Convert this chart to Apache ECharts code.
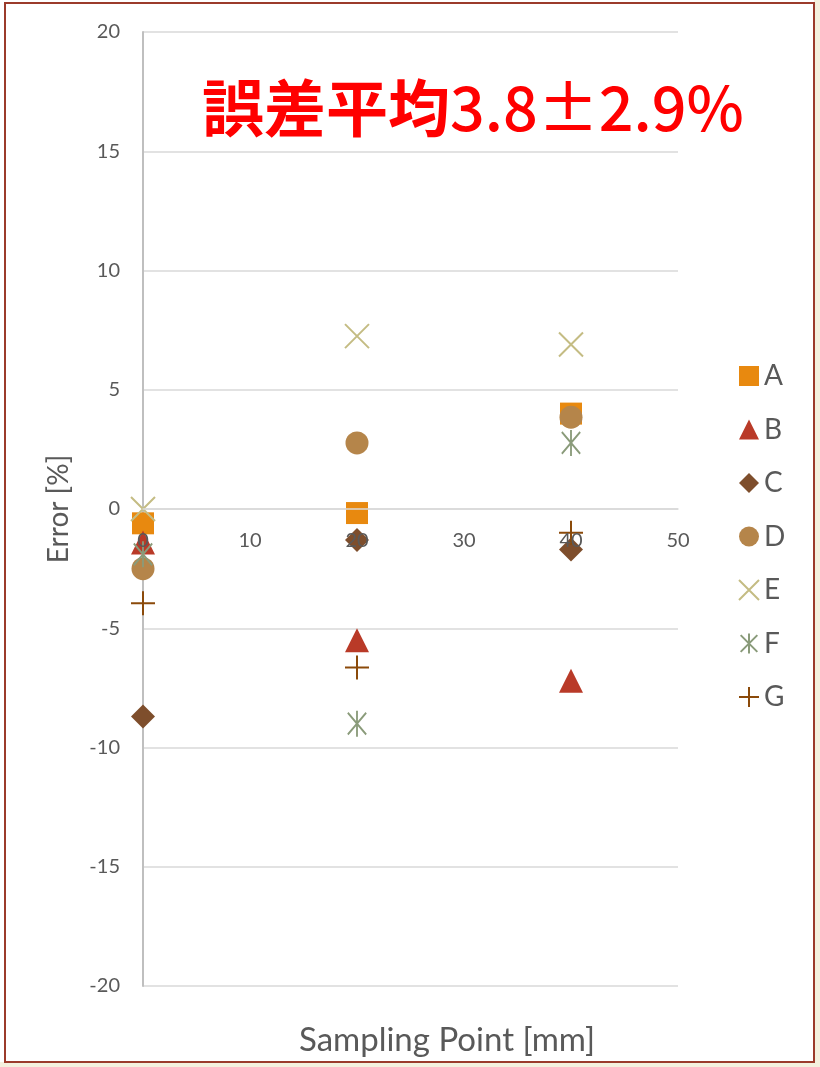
<!DOCTYPE html>
<html>
<head>
<meta charset="utf-8">
<script src="https://cdn.jsdelivr.net/npm/echarts@6/dist/echarts.min.js"></script>
<style>
  html, body { margin: 0; padding: 0; }
  #chart { width: 820px; height: 1067px; }
</style>
</head>
<body>
<div id="chart"></div>
<script>
  // 測定位置 [mm]
  var points = [0, 20, 40];
  var names = ['A', 'B', 'C', 'D', 'E', 'F', 'G'];
  // 誤差 [%]
  var errA = [-0.6, -0.17, 4.0];
  var errB = [-1.4, -5.5, -7.2];
  var errC = [-8.7, -1.3, -1.7];
  var errD = [-2.5, 2.77, 3.85];
  var errE = [0.0, 7.25, 6.9];
  var errF = [-1.9, -9.0, 2.77];
  var errG = [-3.95, -6.65, -1.0];
  var xTicks = [0, 10, 20, 30, 40, 50];
  var yTicks = [-20, -15, -10, -5, 0, 5, 10, 15, 20];

  var allErr = [errA, errB, errC, errD, errE, errF, errG];
  var colors = ['#E8890F', '#B93A28', '#7E4E2C', '#B5854A', '#C4BC83', '#8A9B7A', '#8B4A0A'];
  var symbols = [
    'rect', 'triangle', 'diamond', 'circle',
    'path://M0 0L10 10M10 0L0 10',
    'path://M0 1L10 11M10 1L0 11M5 0L5 12',
    'path://M0 5L10 5M5 0L5 10'
  ];
  var sizes = [22, 24, 24, 23, 24, [22, 26], 24];

  var myChart = echarts.init(document.getElementById('chart'));
  var fontBase = 'Lato, "DejaVu Sans", sans-serif';

  var series = names.map(function (n, i) {
    var stroked = i >= 4;
    return {
      name: n,
      type: 'scatter',
      symbol: symbols[i],
      symbolSize: sizes[i],
      symbolKeepAspect: true,
      itemStyle: stroked ? {
        color: colors[i],
        borderColor: colors[i],
        borderWidth: 2,
        opacity: 1
      } : { color: colors[i], opacity: 1 },
      data: points.map(function (p, j) { return [p, allErr[i][j]]; })
    };
  });

  myChart.setOption({
    backgroundColor: '#F4F1DE',
    animation: false,
    graphic: [
      { type: 'rect', z: -10, shape: { x: 0, y: 0, width: 814, height: 1062 }, style: { fill: '#ffffff' } },
      { type: 'rect', z: -9, shape: { x: 5, y: 3, width: 809, height: 1059 },
        style: { fill: 'none', stroke: '#9B3B2B', lineWidth: 2 } },
      { type: 'text', x: 447, y: 1040,
        style: { text: 'Sampling Point [mm]', fill: '#595959', font: '33px ' + fontBase,
          align: 'center', verticalAlign: 'middle' } }
    ],
    title: {
      text: '{a|誤差平均}{b|3.8±2.9%}',
      left: 197,
      top: 72,
      textStyle: {
        rich: {
          a: { color: '#FF0000', fontSize: 62, fontWeight: 'bold', fontFamily: '"Noto Sans CJK JP", sans-serif' },
          b: { color: '#FF0000', fontSize: 61, fontWeight: 500, fontFamily: '"Noto Sans CJK JP", sans-serif' }
        }
      }
    },
    legend: {
      orient: 'vertical',
      left: 733,
      top: 356,
      itemWidth: 20,
      itemHeight: 20,
      itemGap: 23.5,
      textStyle: { fontSize: 28, lineHeight: 30, color: '#595959', fontFamily: fontBase },
      data: names.map(function (n) { return { name: n }; })
    },
    grid: { left: 143, right: 142, top: 32, bottom: 81 },
    xAxis: {
      type: 'value',
      position: 'bottom',
      offset: -477,
      z: 5,
      min: xTicks[0],
      max: xTicks[xTicks.length - 1],
      interval: 10,
      axisLine: { show: true, onZero: false, lineStyle: { color: '#D9D9D9', width: 1.5 } },
      axisTick: { show: false },
      splitLine: { show: false },
      axisLabel: { margin: 22, fontSize: 20, color: '#595959', fontFamily: fontBase }
    },
    yAxis: {
      type: 'value',
      min: yTicks[0],
      max: yTicks[yTicks.length - 1],
      interval: 5,
      name: 'Error [%]',
      nameLocation: 'middle',
      nameGap: 70,
      nameTextStyle: { fontSize: 28, color: '#595959', fontFamily: fontBase },
      axisLine: { show: true, onZero: false, lineStyle: { color: '#BFBFBF', width: 2 } },
      axisTick: { show: false },
      splitLine: { lineStyle: { color: '#D9D9D9', width: 1.5 } },
      axisLabel: { margin: 23, fontSize: 20, color: '#595959', fontFamily: fontBase }
    },
    series: series
  });
</script>
</body>
</html>
